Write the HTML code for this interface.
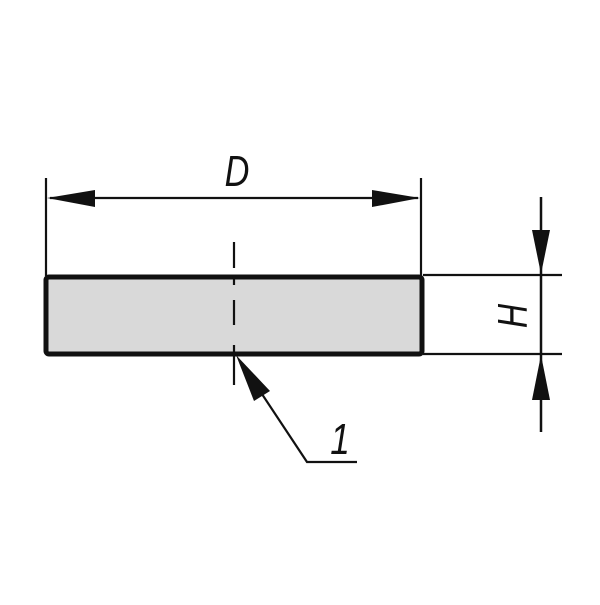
<!DOCTYPE html>
<html><head><style>html,body{margin:0;padding:0;background:#fff}</style></head>
<body>
<svg width="600" height="600" viewBox="0 0 600 600" xmlns="http://www.w3.org/2000/svg">
<rect x="0" y="0" width="600" height="600" fill="#fff"/>
<rect x="46" y="277" width="376" height="77" rx="3" fill="#d9d9d9" stroke="#111" stroke-width="5"/>
<line x1="46" y1="178" x2="46" y2="276" stroke="#111" stroke-width="2.2"/>
<line x1="421" y1="178" x2="421" y2="276" stroke="#111" stroke-width="2.2"/>
<line x1="50" y1="198" x2="418" y2="198" stroke="#111" stroke-width="2.2"/>
<polygon points="47,198 95,190 95,207" fill="#111"/>
<polygon points="420,198 372,190 372,207" fill="#111"/>
<text transform="translate(237,186) scale(0.78,1)" font-family="Liberation Sans, sans-serif" font-style="italic" font-size="44" text-anchor="middle" fill="#111">D</text>
<g stroke="#111" stroke-width="2.2">
<line x1="234" y1="242" x2="234" y2="268"/>
<line x1="234" y1="276" x2="234" y2="285"/>
<line x1="234" y1="300" x2="234" y2="325"/>
<line x1="234" y1="345" x2="234" y2="385"/>
</g>
<line x1="423" y1="275" x2="562" y2="275" stroke="#111" stroke-width="2.2"/>
<line x1="423" y1="354" x2="562" y2="354" stroke="#111" stroke-width="2.2"/>
<line x1="541" y1="197" x2="541" y2="432" stroke="#111" stroke-width="2.5"/>
<polygon points="541,274 532,230 550,230" fill="#111"/>
<polygon points="541,355 532,400 550,400" fill="#111"/>
<text transform="translate(527,316) rotate(-90) scale(0.8,1)" font-family="Liberation Sans, sans-serif" font-style="italic" font-size="42" text-anchor="middle" fill="#111">H</text>
<polyline points="250,376 307,462 357,462" fill="none" stroke="#111" stroke-width="2.2"/>
<polygon points="236,355 270,391 254,401" fill="#111"/>
<text transform="translate(340,454) scale(0.8,1)" font-family="Liberation Sans, sans-serif" font-style="italic" font-size="44" text-anchor="middle" fill="#111">1</text>
</svg>
</body></html>
